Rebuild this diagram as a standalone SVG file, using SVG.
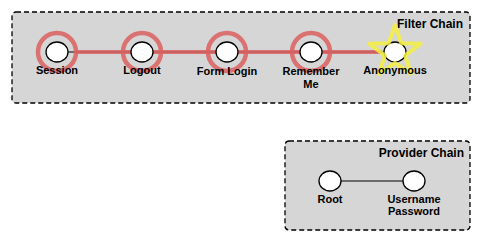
<svg xmlns="http://www.w3.org/2000/svg" width="481" height="243" viewBox="0 0 481 243">
<style>
.box{fill:#d6d6d6;stroke:#000;stroke-width:1.3;stroke-dasharray:5,3}
.node{fill:#fff;stroke:#000;stroke-width:1.3}
.ring{fill:none;stroke:#dc6060;stroke-opacity:0.85;stroke-width:4.5}
.hl{stroke:#dc6060;stroke-opacity:0.85;stroke-width:4}
.edge{stroke:#000;stroke-width:1}
.lbl{font-family:"Liberation Sans",Arial,sans-serif;font-weight:bold;font-size:11px;text-anchor:middle;fill:#000}
.title{font-family:"Liberation Sans",Arial,sans-serif;font-weight:bold;font-size:12px;text-anchor:end;fill:#000}
</style>
<g id="filter-chain">
<rect class="box" x="12" y="12" width="458" height="91" rx="4"/>
<text class="title" x="463" y="28">Filter Chain</text>
</g>
<g id="provider-chain">
<rect class="box" x="285" y="141" width="185" height="89" rx="4"/>
<text class="title" x="464" y="157">Provider Chain</text>
</g>
<g id="connectors">
<line class="edge" x1="57" y1="52" x2="395" y2="52"/>
<line class="hl" x1="76" y1="52" x2="382" y2="52"/>
<line class="edge" x1="330" y1="181" x2="414" y2="181"/>
</g>
<g id="session">
<circle class="ring" cx="57" cy="52" r="19"/>
<ellipse class="node" cx="57" cy="52" rx="11" ry="10"/>
<text class="lbl" x="57" y="74">Session</text>
</g>
<g id="logout">
<circle class="ring" cx="142" cy="52" r="19"/>
<ellipse class="node" cx="142" cy="52" rx="11" ry="10"/>
<text class="lbl" x="142" y="74">Logout</text>
</g>
<g id="form-login">
<circle class="ring" cx="227" cy="52" r="19"/>
<ellipse class="node" cx="227" cy="52" rx="11" ry="10"/>
<text class="lbl" x="227" y="75">Form Login</text>
</g>
<g id="remember-me">
<circle class="ring" cx="311" cy="52" r="19"/>
<ellipse class="node" cx="311" cy="52" rx="11" ry="10"/>
<text class="lbl" x="311" y="75">Remember</text>
<text class="lbl" x="311" y="88">Me</text>
</g>
<g id="anonymous">
<ellipse class="node" cx="395" cy="52" rx="11" ry="10"/>
<polygon fill="none" stroke="#f4f040" stroke-opacity="0.85" stroke-width="4" stroke-linejoin="round" points="395,25 401.3,43.3 420.7,43.7 405.2,55.4 410.9,73.8 395,62.8 379.1,73.8 384.8,55.4 369.3,43.7 388.7,43.3"/>
<text class="lbl" x="395" y="74">Anonymous</text>
</g>
<g id="root">
<ellipse class="node" cx="330" cy="181" rx="11" ry="10"/>
<text class="lbl" x="330" y="203">Root</text>
</g>
<g id="username-password">
<ellipse class="node" cx="414" cy="181" rx="11" ry="10"/>
<text class="lbl" x="414" y="203">Username</text>
<text class="lbl" x="414" y="215">Password</text>
</g>
</svg>
